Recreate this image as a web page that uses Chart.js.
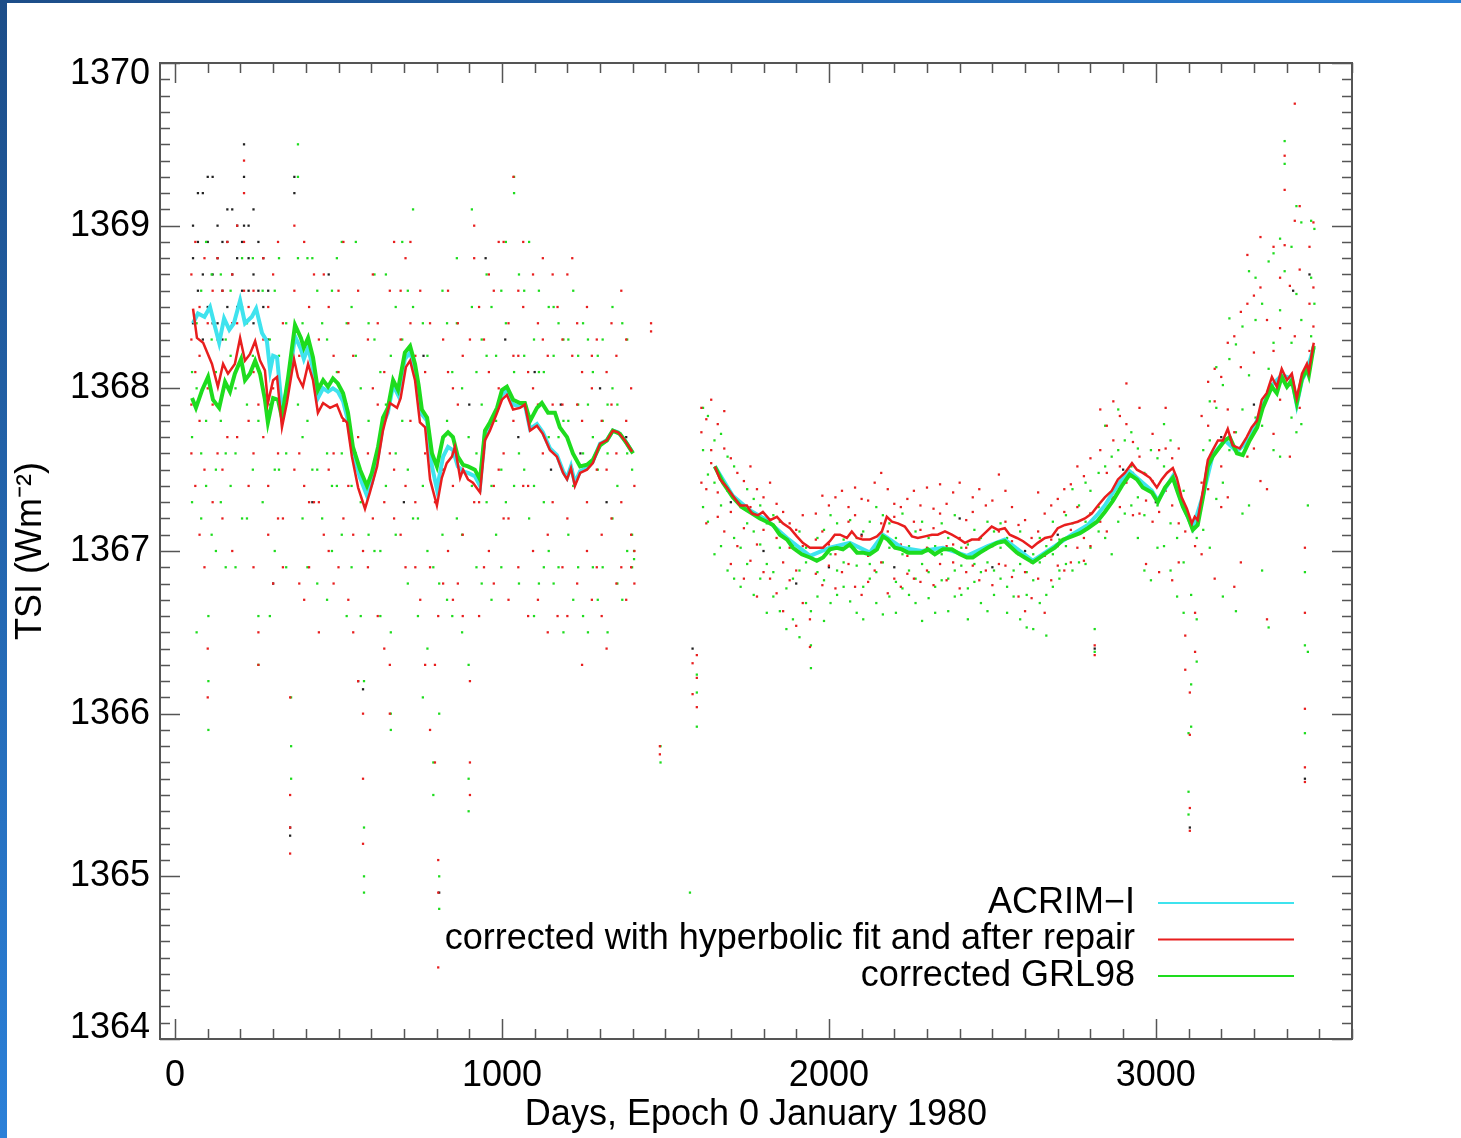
<!DOCTYPE html>
<html>
<head>
<meta charset="utf-8">
<script src="https://cdn.jsdelivr.net/npm/chart.js@4.4.1/dist/chart.umd.min.js"></script>
<style>
html,body{margin:0;padding:0;background:#fff;}
#wrap{position:relative;width:1461px;height:1138px;overflow:hidden;background:#fff;}
#topbar{position:absolute;left:0;top:0;width:1461px;height:3px;background:linear-gradient(to right,#1c4d88,#2b7ed3);}
#leftbar{position:absolute;left:0;top:0;width:7px;height:1138px;background:linear-gradient(to bottom,#1c4d88,#2b80d8);}
#tsi{position:absolute;left:0;top:0;}
</style>
</head>
<body>
<div id="wrap">
  <canvas id="tsi" width="1461" height="1138"></canvas>
  <div id="topbar"></div>
  <div id="leftbar"></div>
</div>
<script>
// axis ticks
var xTickLabels = [0, 1000, 2000, 3000];
var yTickLabels = [1364, 1365, 1366, 1367, 1368, 1369, 1370];
var legendLabels = ['ACRIM\u2212I', 'corrected with hyperbolic fit and after repair', 'corrected GRL98'];

// ACRIM-I (cyan) -- null day splits the two segments
var cyanDays = [55,70,90,107,122,135,150,166,180,199,214,235,248,266,281,291,300,312,327,346,367,385,394,407,422,437,453,468,483,498,514,529,544,566,587,602,621,636,651,667,682,703,719,734,745,755,771,786,801,820,835,850,865,881,896,917,933,948,963,985,1000,1015,1034,1055,1070,1086,1107,1125,1147,1168,1187,1199,1211,1223,1239,1260,1278,1300,1321,1339,1355,1376,1398,
  1500,
  1651,1706,1758,1810,1872,1942,2003,2064,2125,2165,2223,2284,2349,2422,2486,2538,2624,2691,2743,2792,2820,2844,2869,2896,2920,2942,2988,3006,3052,3083,3113,3144,3174,3211,3248,3287,3327,3355,3385,3416,3431,3447,3462,3483];
var cyanVals = [1368.40,1368.46,1368.44,1368.50,1368.38,1368.28,1368.43,1368.36,1368.40,1368.54,1368.40,1368.44,1368.49,1368.34,1368.29,1368.11,1368.20,1368.19,1367.87,1368.02,1368.32,1368.24,1368.18,1368.25,1368.12,1367.94,1368.00,1367.98,1368.00,1367.98,1367.92,1367.80,1367.60,1367.45,1367.34,1367.42,1367.59,1367.78,1367.85,1368.02,1367.96,1368.18,1368.22,1368.12,1367.98,1367.84,1367.80,1367.52,1367.38,1367.58,1367.64,1367.62,1367.52,1367.49,1367.48,1367.46,1367.40,1367.72,1367.77,1367.87,1367.96,1367.99,1367.90,1367.89,1367.90,1367.75,1367.78,1367.73,1367.63,1367.59,1367.49,1367.45,1367.52,1367.42,1367.49,1367.51,1367.55,1367.66,1367.68,1367.74,1367.73,1367.68,1367.61,
  null,
  1367.52,1367.34,1367.25,1367.19,1367.08,1366.97,1367.02,1367.05,1366.99,1367.10,1367.02,1367.00,1367.02,1366.97,1367.03,1367.07,1366.94,1367.03,1367.10,1367.16,1367.22,1367.28,1367.36,1367.44,1367.49,1367.45,1367.37,1367.31,1367.46,1367.28,1367.14,1367.34,1367.59,1367.68,1367.61,1367.69,1367.89,1368.02,1368.08,1368.06,1367.90,1368.05,1368.11,1368.25];

// corrected with hyperbolic fit and after repair (red)
var redDays = [55,67,86,113,131,147,162,183,199,214,229,245,260,275,284,300,312,327,342,364,376,391,407,422,437,453,474,495,511,526,541,560,581,596,618,636,657,679,690,706,719,734,749,765,780,801,816,831,847,856,872,881,896,911,933,948,963,985,1000,1015,1034,1055,1070,1086,1107,1125,1147,1168,1187,1199,1211,1223,1239,1260,1278,1300,1321,1339,1355,1376,1398,
  1500,
  1651,1667,1688,1706,1728,1749,1765,1783,1798,1820,1841,1859,1881,1902,1920,1942,1963,1982,2003,2018,2034,2055,2070,2086,2104,2125,2147,2162,2177,2193,2211,2232,2254,2272,2294,2315,2333,2355,2376,2394,2416,2437,2456,2477,2498,2517,2538,2553,2575,2594,2621,2639,2661,2682,2700,2722,2743,2761,2783,2804,2823,2844,2865,2884,2905,2927,2942,2960,2982,3003,3018,3034,3052,3064,3079,3095,3110,3119,3128,3144,3159,3174,3190,3205,3220,3235,3257,3278,3293,3309,3324,3339,3355,3370,3385,3401,3416,3431,3447,3462,3468,3483];
var redVals = [1368.49,1368.31,1368.28,1368.15,1368.01,1368.15,1368.09,1368.15,1368.31,1368.17,1368.21,1368.29,1368.17,1368.11,1367.91,1368.05,1368.07,1367.76,1367.91,1368.18,1368.07,1368.01,1368.15,1368.05,1367.85,1367.91,1367.88,1367.90,1367.82,1367.79,1367.58,1367.39,1367.26,1367.36,1367.52,1367.74,1367.91,1367.88,1367.94,1368.13,1368.17,1368.05,1367.79,1367.76,1367.44,1367.28,1367.45,1367.54,1367.58,1367.64,1367.45,1367.50,1367.44,1367.42,1367.36,1367.68,1367.74,1367.85,1367.93,1367.96,1367.87,1367.88,1367.90,1367.74,1367.77,1367.72,1367.62,1367.58,1367.48,1367.44,1367.51,1367.40,1367.48,1367.50,1367.54,1367.66,1367.68,1367.74,1367.73,1367.68,1367.61,
  null,
  1367.52,1367.44,1367.39,1367.34,1367.28,1367.28,1367.23,1367.22,1367.24,1367.19,1367.21,1367.17,1367.14,1367.09,1367.05,1367.02,1367.02,1367.02,1367.06,1367.10,1367.10,1367.08,1367.12,1367.08,1367.07,1367.07,1367.09,1367.12,1367.21,1367.18,1367.17,1367.15,1367.09,1367.08,1367.09,1367.10,1367.10,1367.12,1367.10,1367.08,1367.05,1367.07,1367.07,1367.11,1367.15,1367.13,1367.14,1367.10,1367.08,1367.06,1367.02,1367.05,1367.08,1367.09,1367.14,1367.16,1367.17,1367.18,1367.20,1367.23,1367.28,1367.33,1367.37,1367.44,1367.48,1367.54,1367.50,1367.48,1367.45,1367.39,1367.44,1367.48,1367.51,1367.45,1367.33,1367.26,1367.17,1367.21,1367.19,1367.37,1367.56,1367.62,1367.68,1367.68,1367.75,1367.65,1367.63,1367.70,1367.76,1367.80,1367.93,1367.97,1368.07,1368.01,1368.12,1368.05,1368.09,1367.94,1368.09,1368.15,1368.10,1368.28];

// corrected GRL98 (green)
var greenDays = [52,64,83,101,116,135,153,168,183,202,214,229,245,260,275,284,300,315,327,346,367,385,394,407,422,437,453,468,483,498,514,529,544,566,587,602,621,636,651,667,682,703,719,734,745,755,771,786,801,820,835,850,865,881,896,917,933,948,963,985,1000,1015,1034,1055,1070,1086,1107,1122,1141,1162,1177,1199,1217,1239,1260,1278,1300,1321,1339,1361,1382,1401,
  1500,
  1651,1676,1706,1734,1758,1789,1810,1829,1850,1872,1890,1917,1942,1963,1982,2003,2024,2043,2064,2086,2104,2125,2147,2165,2180,2202,2223,2242,2263,2284,2303,2324,2349,2376,2401,2422,2440,2462,2486,2514,2538,2548,2575,2599,2624,2645,2667,2691,2716,2743,2768,2792,2820,2844,2869,2896,2920,2942,2960,2988,3006,3028,3052,3067,3083,3098,3113,3128,3144,3159,3174,3196,3211,3226,3248,3266,3287,3310,3327,3355,3370,3385,3401,3416,3431,3447,3462,3468,3483];
var greenVals = [1367.94,1367.88,1367.99,1368.07,1367.93,1367.88,1368.04,1367.98,1368.09,1368.18,1368.05,1368.09,1368.17,1368.09,1367.93,1367.79,1367.94,1367.93,1367.82,1368.07,1368.39,1368.31,1368.25,1368.31,1368.19,1367.99,1368.05,1368.01,1368.06,1368.03,1367.97,1367.85,1367.64,1367.50,1367.40,1367.48,1367.64,1367.82,1367.88,1368.05,1367.99,1368.22,1368.26,1368.15,1368.02,1367.87,1367.82,1367.60,1367.52,1367.70,1367.73,1367.70,1367.58,1367.53,1367.52,1367.50,1367.44,1367.74,1367.79,1367.88,1367.99,1368.01,1367.93,1367.91,1367.91,1367.80,1367.88,1367.91,1367.85,1367.85,1367.76,1367.70,1367.60,1367.52,1367.53,1367.56,1367.65,1367.68,1367.74,1367.72,1367.66,1367.60,
  null,
  1367.52,1367.42,1367.33,1367.27,1367.24,1367.20,1367.18,1367.16,1367.10,1367.07,1367.02,1366.98,1366.96,1366.94,1366.96,1367.01,1367.02,1367.01,1367.04,1366.99,1366.99,1366.98,1367.01,1367.09,1367.07,1367.02,1367.01,1366.99,1366.99,1366.99,1367.01,1366.98,1367.01,1367.01,1366.98,1366.96,1366.96,1366.99,1367.02,1367.05,1367.06,1367.04,1366.99,1366.96,1366.93,1366.96,1366.99,1367.02,1367.07,1367.09,1367.11,1367.14,1367.18,1367.24,1367.31,1367.40,1367.47,1367.44,1367.39,1367.36,1367.30,1367.39,1367.45,1367.36,1367.27,1367.21,1367.13,1367.16,1367.33,1367.52,1367.58,1367.64,1367.68,1367.70,1367.60,1367.59,1367.68,1367.76,1367.88,1368.01,1367.97,1368.07,1368.01,1368.05,1367.91,1368.06,1368.12,1368.08,1368.26];

// daily values: each column is [day, TSI, TSI, ...]
var redCols = [[50,1368.7,1367.6,1368.3,1367.9],[62,1368.9,1368.1,1367.4],[75,1368.5,1368.2,1367.8,1367.1],[90,1368.8,1367.5,1366.9],[100,1366.4,1366.1,1368.4,1368.0],[115,1368.6,1367.3,1367.9],[130,1368.8,1368.3,1367.6],[145,1367.5,1368.6,1367.2],[160,1368.1,1368.9,1367.7],[175,1367.0,1368.4,1368.7],[190,1368.4,1367.7,1369.0],[211,1369.4,1369.2,1368.9,1368.6],[225,1367.8,1368.5,1367.4],[240,1368.6,1368.1,1367.6,1366.9],[255,1366.5,1366.3,1367.9],[270,1368.3,1367.7,1368.8],[285,1367.4,1367.1,1368.5],[300,1366.8,1368.0,1368.7],[315,1368.9,1367.6,1367.2],[330,1367.2,1368.4,1366.9],[352,1365.14,1365.5,1365.3,1366.1],[365,1369.0,1368.6,1367.5],[380,1367.6,1368.2,1366.8],[395,1366.7,1368.9,1367.4],[410,1368.5,1367.3,1366.9],[425,1367.3,1368.7,1368.1],[440,1367.3,1366.5,1368.3],[455,1368.7,1367.1,1368.0],[470,1367.0,1368.5,1367.5],[485,1368.2,1366.8,1367.6],[500,1366.9,1368.6,1368.1],[515,1367.8,1367.2,1368.9],[530,1368.4,1366.7,1367.4],[545,1367.1,1368.2,1366.5],[560,1366.2,1368.6,1367.7],[575,1365.2,1365.6,1366.0,1367.0],[590,1367.6,1368.3,1366.9],[605,1368.0,1367.2,1368.7],[620,1366.6,1367.9,1368.4],[640,1366.4,1367.3,1368.1],[657,1366.0,1366.3,1368.6,1367.6],[670,1367.2,1368.9,1367.5],[690,1368.6,1367.1,1368.3],[705,1367.4,1368.8,1366.9],[720,1368.9,1367.8,1368.4],[735,1366.9,1368.2,1367.3],[750,1367.9,1368.6,1366.7],[765,1366.3,1367.6,1368.1],[780,1366.9,1365.9,1368.4],[795,1365.7,1367.3,1366.3],[805,1364.44,1364.9,1365.1,1366.6],[820,1368.3,1367.5,1366.8],[835,1367.0,1368.6,1368.1],[850,1368.0,1366.7,1367.4],[865,1366.8,1368.4,1367.9],[880,1368.2,1367.1,1366.6],[902,1365.5,1365.7,1366.2,1368.3],[915,1368.8,1367.3,1369.0],[930,1367.3,1366.6,1368.5],[945,1368.3,1367.6,1366.9],[960,1367.0,1368.7,1368.1],[975,1368.6,1367.4,1366.8],[990,1367.5,1368.9,1368.0],[1005,1368.9,1367.2,1367.6],[1020,1367.2,1368.4,1366.7],[1035,1368.2,1369.3,1367.8],[1050,1366.9,1368.6,1368.2],[1065,1368.5,1367.4,1368.9],[1080,1367.4,1368.1,1366.6],[1095,1368.0,1367.0,1368.7],[1110,1366.7,1368.4,1367.9],[1125,1368.3,1367.6,1368.8],[1140,1367.1,1366.5,1368.2],[1155,1368.7,1367.9,1367.3],[1170,1366.6,1368.5,1367.8],[1185,1367.9,1366.9,1368.3],[1200,1367.2,1368.7,1366.6],[1215,1368.2,1367.5,1368.8],[1230,1366.8,1367.9,1368.4],[1245,1367.8,1366.3,1368.1],[1260,1367.3,1368.5,1367.0],[1275,1368.0,1366.7,1368.2],[1290,1366.9,1368.3,1367.5],[1305,1367.8,1367.1,1366.6],[1320,1366.4,1368.1,1367.5],[1335,1367.9,1367.2,1368.4],[1350,1368.2,1366.8,1367.6],[1365,1367.3,1368.6,1366.9],[1380,1366.7,1367.8,1368.3],[1395,1367.1,1368.0,1366.9],[1405,1367.0,1367.4,1366.8],[1456,1368.4,1368.35],[1483,1365.8,1365.75],
  [1583,1366.31,1366.12],[1596,1366.22,1366.04,1366.36],[1610,1367.73,1367.42,1367.88],[1625,1367.38,1367.81,1367.17],[1640,1367.93,1367.54,1367.62],[1660,1367.78,1367.36,1367.21],[1680,1367.63,1367.12,1367.86],[1700,1367.24,1367.57,1366.92],[1720,1367.48,1367.03,1367.31],[1740,1367.14,1367.43,1366.83],[1760,1367.27,1366.94,1367.52],[1780,1367.04,1367.38,1366.72],[1800,1367.33,1366.87,1367.13],[1820,1366.83,1367.19,1367.42],[1840,1367.08,1366.74,1367.29],[1860,1366.93,1367.24,1366.63],[1880,1367.17,1366.82,1367.02],[1900,1366.88,1367.13,1366.54],[1920,1367.03,1366.68,1367.22],[1942,1366.41,1366.58,1366.97],[1960,1367.23,1366.86,1367.07],[1980,1366.79,1367.12,1367.34],[2000,1367.28,1366.91,1367.04],[2020,1366.98,1367.33,1366.77],[2040,1367.37,1367.02,1366.87],[2060,1366.92,1367.18,1367.27],[2080,1367.22,1366.78,1367.39],[2100,1366.73,1367.09,1367.32],[2120,1367.31,1366.97,1366.81],[2140,1367.03,1367.42,1366.88],[2160,1367.48,1367.17,1366.93],[2180,1367.12,1367.38,1366.74],[2200,1366.83,1367.21,1367.29],[2220,1367.27,1367.04,1366.78],[2240,1366.97,1367.32,1366.86],[2260,1367.18,1366.83,1367.37],[2280,1366.81,1367.13,1367.28],[2300,1367.39,1367.02,1366.88],[2320,1367.14,1366.79,1367.26],[2340,1366.92,1367.23,1367.41],[2360,1367.29,1367.03,1366.82],[2380,1367.04,1367.36,1366.93],[2400,1367.42,1367.08,1366.77],[2420,1366.87,1367.19,1367.02],[2440,1367.24,1366.91,1367.33],[2460,1366.82,1367.07,1367.38],[2480,1367.28,1367.01,1366.88],[2500,1367.03,1367.31,1366.79],[2520,1367.47,1367.12,1366.92],[2540,1366.91,1367.18,1367.37],[2560,1367.27,1366.84,1367.06],[2580,1366.72,1367.16,1366.98],[2600,1367.19,1366.87,1366.63],[2620,1366.93,1367.08,1366.71],[2640,1367.36,1366.83,1367.12],[2660,1366.62,1366.97,1367.23],[2680,1367.07,1366.82,1367.28],[2700,1367.32,1367.03,1366.91],[2720,1366.88,1367.24,1367.38],[2740,1367.41,1367.13,1366.93],[2760,1367.02,1367.27,1367.52],[2780,1367.46,1367.08,1366.94],[2800,1367.23,1367.57,1367.03],[2813,1366.42,1366.36],[2830,1367.62,1367.18,1367.87],[2850,1367.12,1367.48,1367.77],[2870,1367.68,1367.33,1367.92],[2890,1367.27,1367.83,1367.52],[2910,1367.78,1367.42,1368.03],[2930,1367.22,1367.67,1367.48],[2950,1367.58,1367.23,1367.88],[2970,1366.92,1367.47,1367.31],[2990,1367.72,1367.18,1367.43],[3010,1367.24,1367.62,1366.87],[3030,1367.88,1367.37,1367.63],[3050,1366.82,1367.57,1367.28],[3070,1367.63,1367.17,1366.93],[3090,1366.48,1367.12,1366.27],[3104,1365.28,1365.42,1365.87,1366.13],[3120,1366.62,1367.03,1366.38],[3140,1367.42,1366.98,1367.83],[3160,1367.77,1367.38,1368.04],[3180,1366.83,1367.92,1368.12],[3200,1368.07,1367.52,1367.27],[3220,1367.33,1368.28,1367.87],[3240,1368.32,1366.78,1367.73],[3260,1366.93,1368.47,1368.13],[3280,1368.52,1367.58,1368.82],[3300,1367.63,1368.57,1368.22],[3320,1368.62,1367.43,1368.93],[3340,1367.38,1368.42,1366.58],[3360,1368.87,1368.23,1367.72],[3380,1367.93,1368.68,1368.37],[3394,1369.22,1368.88,1369.43],[3410,1368.02,1368.63,1367.58],[3425,1369.75,1368.32,1369.03],[3440,1368.73,1367.88,1369.12],[3456,1365.58,1365.67,1366.03,1366.62,1367.02],[3470,1368.52,1368.87,1368.23],[3482,1369.02,1368.62,1368.38]];
var greenCols = [[52,1367.3,1368.1,1367.7],[66,1366.5,1368.4,1368.0],[80,1368.6,1367.6,1367.2],[95,1367.8,1368.9,1367.4],[102,1365.9,1366.2,1366.6],[112,1368.3,1367.1,1368.7],[125,1367.0,1368.1,1367.5],[140,1368.7,1367.8,1367.3],[155,1367.6,1368.3,1366.9],[170,1368.2,1367.4,1368.6],[185,1366.9,1368.0,1367.6],[205,1368.5,1367.2,1368.8],[220,1367.2,1368.4,1367.9],[238,1368.8,1367.5,1368.2],[255,1366.3,1366.6,1367.8],[268,1368.0,1368.6,1367.3],[290,1366.6,1367.9,1368.3],[305,1368.6,1367.5,1367.0],[318,1367.5,1368.2,1368.8],[340,1366.9,1367.6,1368.4],[355,1365.6,1365.8,1366.1],[376,1369.5,1369.3,1368.8,1367.9],[390,1367.7,1368.4,1367.2],[405,1366.9,1368.8,1367.8],[420,1368.8,1367.5,1368.2],[435,1367.5,1366.8,1368.6],[450,1368.4,1367.2,1367.9],[465,1366.7,1368.3,1367.6],[480,1368.6,1367.4,1367.0],[495,1367.4,1368.8,1368.1],[510,1368.9,1367.1,1367.6],[525,1366.6,1367.9,1368.4],[540,1367.4,1368.5,1366.9],[553,1368.9,1367.6,1368.2],[568,1366.6,1367.3,1368.0],[578,1364.9,1365.0,1365.3,1366.2],[592,1367.1,1368.4,1367.8],[610,1368.3,1367.0,1368.7],[628,1367.0,1366.6,1368.1],[645,1368.7,1367.4,1367.9],[660,1365.9,1366.0,1366.5,1368.2],[675,1367.6,1368.5,1367.1],[695,1368.9,1367.8,1368.3],[712,1366.8,1368.6,1367.5],[728,1368.5,1367.2,1369.1],[743,1367.2,1368.0,1366.6],[758,1366.1,1367.4,1368.4],[772,1367.0,1368.2,1366.4],[790,1365.7,1365.5,1366.9],[808,1364.8,1365.0,1366.0,1366.8],[818,1368.6,1367.5,1367.1],[832,1367.8,1368.4,1366.7],[848,1366.6,1367.7,1368.1],[862,1368.4,1367.2,1368.8],[878,1367.1,1368.0,1366.5],[898,1365.4,1365.6,1366.3,1367.7],[908,1369.1,1368.5,1367.4],[922,1368.1,1366.9,1367.6],[938,1366.8,1368.3,1367.9],[953,1368.7,1367.3,1368.2],[968,1367.4,1366.7,1368.5],[982,1368.2,1367.8,1367.1],[998,1366.9,1368.6,1367.5],[1012,1368.4,1367.3,1368.9],[1037,1369.3,1369.2,1368.1,1367.4],[1052,1367.6,1368.7,1366.8],[1068,1368.6,1367.5,1368.2],[1083,1367.2,1368.9,1367.8],[1098,1368.3,1366.6,1367.4],[1113,1366.8,1368.1,1368.6],[1128,1368.1,1367.3,1366.9],[1143,1367.0,1368.5,1367.7],[1158,1368.5,1366.8,1368.2],[1173,1366.9,1367.7,1368.4],[1188,1367.8,1368.3,1366.5],[1203,1368.3,1367.1,1367.8],[1218,1366.7,1368.6,1367.4],[1233,1367.9,1366.9,1368.2],[1248,1368.4,1367.6,1366.6],[1263,1366.5,1367.9,1368.3],[1278,1367.7,1368.1,1366.9],[1293,1368.2,1366.7,1367.5],[1308,1366.9,1367.8,1368.3],[1323,1367.6,1366.5,1367.9],[1338,1368.0,1367.2,1368.5],[1353,1366.8,1367.9,1367.4],[1368,1367.7,1368.4,1366.7],[1383,1368.3,1367.0,1367.6],[1398,1367.1,1367.5,1366.9],[1404,1367.0,1366.95],[1485,1365.8,1365.7],
  [1575,1364.9],[1596,1366.13,1366.24,1365.92],[1615,1367.62,1367.88,1367.27],[1630,1367.83,1367.18,1367.47],[1650,1366.98,1367.42,1367.68],[1670,1367.72,1367.28,1367.03],[1690,1366.88,1367.37,1367.58],[1710,1367.52,1367.08,1366.83],[1730,1366.78,1367.27,1367.02],[1750,1367.38,1366.92,1367.17],[1770,1366.73,1367.12,1367.32],[1790,1367.28,1366.83,1367.04],[1810,1366.92,1367.17,1366.62],[1830,1367.22,1366.72,1366.87],[1850,1366.63,1367.02,1367.18],[1870,1367.08,1366.77,1366.52],[1890,1366.83,1367.03,1366.58],[1910,1366.47,1366.88,1367.12],[1930,1367.02,1366.68,1366.93],[1945,1366.28,1366.42,1366.63],[1965,1366.87,1367.08,1366.72],[1985,1367.13,1366.82,1366.57],[2005,1366.68,1366.98,1367.22],[2025,1367.17,1366.88,1366.73],[2045,1366.78,1367.07,1366.93],[2065,1367.03,1366.69,1367.19],[2085,1366.62,1366.91,1367.08],[2105,1367.12,1366.78,1366.58],[2125,1366.83,1367.18,1366.92],[2145,1367.27,1366.87,1366.68],[2165,1366.93,1367.22,1366.61],[2185,1366.72,1367.02,1367.17],[2205,1367.08,1366.81,1366.62],[2225,1366.77,1366.98,1367.23],[2245,1367.03,1366.73,1366.88],[2265,1366.68,1367.12,1366.83],[2285,1367.18,1366.92,1366.57],[2305,1366.87,1366.71,1367.08],[2325,1366.62,1367.03,1366.78],[2345,1366.98,1366.82,1367.17],[2365,1366.83,1367.08,1366.63],[2385,1367.22,1366.88,1366.72],[2405,1366.73,1367.02,1366.91],[2425,1367.04,1366.77,1366.58],[2445,1366.81,1367.13,1366.92],[2465,1367.08,1366.68,1366.87],[2485,1366.63,1366.93,1367.18],[2505,1366.88,1367.12,1366.73],[2525,1367.17,1366.83,1367.02],[2545,1366.78,1367.08,1366.62],[2565,1367.02,1366.72,1366.88],[2585,1366.58,1366.92,1367.12],[2605,1366.87,1366.53,1366.73],[2625,1366.52,1366.82,1366.98],[2645,1367.08,1366.68,1366.93],[2665,1366.73,1367.03,1366.48],[2685,1366.98,1366.78,1367.18],[2705,1366.83,1367.07,1366.88],[2725,1367.22,1366.92,1367.03],[2745,1366.88,1367.17,1367.38],[2765,1367.28,1366.93,1367.12],[2785,1366.92,1367.42,1367.18],[2800,1367.37,1367.02,1367.23],[2813,1366.38,1366.52],[2825,1367.12,1367.48,1367.27],[2845,1367.52,1367.08,1367.77],[2865,1366.98,1367.58,1367.32],[2885,1367.62,1367.18,1367.87],[2905,1367.23,1367.68,1367.42],[2925,1367.73,1367.28,1367.52],[2945,1367.08,1367.63,1367.33],[2965,1367.48,1366.88,1367.22],[2985,1366.82,1367.38,1367.62],[3005,1367.57,1367.02,1367.28],[3025,1367.03,1367.52,1367.78],[3045,1367.68,1367.17,1366.88],[3065,1366.72,1367.42,1367.08],[3085,1367.37,1366.62,1366.93],[3100,1365.38,1365.52,1365.88],[3108,1365.92,1366.18,1366.73],[3125,1366.58,1367.08,1366.32],[3145,1367.62,1367.13,1367.38],[3165,1367.02,1367.68,1367.92],[3185,1367.88,1367.32,1368.13],[3205,1367.42,1368.02,1366.72],[3225,1368.18,1367.62,1368.43],[3245,1366.63,1367.73,1368.27],[3265,1368.38,1367.87,1367.23],[3285,1367.28,1368.72,1368.08],[3305,1368.68,1367.82,1368.42],[3325,1367.77,1368.52,1366.88],[3345,1366.53,1368.12,1368.78],[3360,1368.83,1367.62,1368.28],[3380,1367.58,1368.48,1368.92],[3394,1369.38,1369.52,1368.72],[3415,1368.28,1367.82,1368.87],[3430,1369.12,1368.58,1367.73],[3445,1367.78,1368.42,1369.02],[3456,1365.88,1366.42,1366.87],[3465,1366.38,1367.28],[3475,1368.68,1369.03,1368.32],[3485,1368.98,1368.52]];
var blackCols = [[55,1368.8,1369.0,1368.4],[70,1368.6,1369.2,1368.9],[85,1369.2,1368.7,1368.3],[100,1368.5,1368.9,1369.3],[115,1369.3,1368.7,1368.4],[130,1368.4,1369.0,1368.8],[145,1368.6,1368.9,1368.3],[160,1368.9,1368.5,1369.1],[175,1369.1,1368.7,1368.4],[190,1368.5,1368.8,1369.0],[205,1368.9,1368.6],[211,1369.5,1369.3,1369.0],[225,1368.6,1369.0,1368.8],[240,1368.7,1368.4,1369.1],[255,1368.9,1368.6],[270,1368.5,1368.8],[285,1368.6,1368.3],[300,1366.8],[352,1365.3,1365.25],[365,1369.3,1369.2],[420,1367.3],[470,1368.7],[560,1366.2],[575,1366.15],[640,1367.8],[700,1367.3],[760,1368.2],[808,1364.9],[850,1367.6],[900,1367.9],[950,1368.8],[1010,1368.3],[1050,1367.7],[1100,1368.1],[1150,1367.5],[1180,1367.9],[1240,1367.6],[1300,1368.0],[1320,1367.3],[1380,1367.7],
  [1583,1366.4],[1700,1367.3],[1800,1367.0],[1900,1366.8],[2000,1366.9],[2100,1367.1],[2200,1366.9],[2300,1367.0],[2400,1367.2],[2500,1366.9],[2600,1367.0],[2700,1367.1],[2813,1366.4],[2900,1367.5],[3000,1367.3],[3104,1365.3],[3200,1367.7],[3300,1367.9],[3420,1368.6],[3456,1365.6],[3470,1368.7]];

var CYAN = '#3fe3ee', RED = '#e81e1e', GREEN = '#1edc1e';
var FONT = '"Liberation Sans", Arial, Helvetica, sans-serif';

function series(days, vals) {
  return days.map(function(d, i) { return {x: d, y: vals[i]}; });
}
function dots(cols) {
  var out = [];
  cols.forEach(function(c) {
    for (var i = 1; i < c.length; i++) out.push({x: c[0], y: c[i]});
  });
  return out;
}

// box, inward minor/major ticks on all four sides, legend inside bottom right
var frameBox = {
  id: 'frameBox',
  afterDatasetsDraw: function(chart) {
    var ctx = chart.ctx, a = chart.chartArea;
    var xs = chart.scales.x, ys = chart.scales.y;
    ctx.save();
    ctx.strokeStyle = '#555';
    ctx.lineWidth = 1.5;
    ctx.beginPath();
    for (var k = 0; k <= 60; k++) {
      var py = Math.round(ys.getPixelForValue(1364 + k / 10)) + 0.5;
      var len = (k % 10 === 0) ? 20 : 10;
      ctx.moveTo(a.left, py); ctx.lineTo(a.left + len, py);
      ctx.moveTo(a.right, py); ctx.lineTo(a.right - len, py);
    }
    for (var d = 0; d <= 3600; d += 100) {
      var px = Math.round(xs.getPixelForValue(d)) + 0.5;
      var l2 = (d % 1000 === 0) ? 20 : 10;
      ctx.moveTo(px, a.bottom); ctx.lineTo(px, a.bottom - l2);
      ctx.moveTo(px, a.top); ctx.lineTo(px, a.top + l2);
    }
    ctx.stroke();
    ctx.lineWidth = 2;
    ctx.strokeRect(a.left, a.top, a.right - a.left, a.bottom - a.top);

    // legend
    var colors = [CYAN, RED, GREEN];
    ctx.font = '36px ' + FONT;
    ctx.textAlign = 'right';
    ctx.textBaseline = 'middle';
    for (var i = 0; i < legendLabels.length; i++) {
      var ly = a.bottom - 136 + i * 36.5;
      ctx.fillStyle = '#000';
      ctx.fillText(legendLabels[i], a.right - 217, ly);
      ctx.strokeStyle = colors[i];
      ctx.lineWidth = 2;
      ctx.beginPath();
      ctx.moveTo(a.right - 194, ly); ctx.lineTo(a.right - 58, ly);
      ctx.stroke();
    }
    ctx.restore();
  }
};

var dotStyle = {pointStyle: 'rect', pointRadius: 1.6, pointBorderWidth: 0, order: 10};
var ctx = document.getElementById('tsi').getContext('2d');
var tsiChart = new Chart(ctx, {
  type: 'scatter',
  data: {
    datasets: [
      Object.assign({label: 'red days', data: dots(redCols), backgroundColor: RED}, dotStyle),
      Object.assign({label: 'green days', data: dots(greenCols), backgroundColor: GREEN}, dotStyle),
      Object.assign({label: 'black days', data: dots(blackCols), backgroundColor: '#222'}, dotStyle),
      {label: legendLabels[0], data: series(cyanDays, cyanVals), showLine: true, borderColor: CYAN, borderWidth: 4, pointRadius: 0, order: 3},
      {label: legendLabels[2], data: series(greenDays, greenVals), showLine: true, borderColor: GREEN, borderWidth: 4, pointRadius: 0, order: 2},
      {label: legendLabels[1], data: series(redDays, redVals), showLine: true, borderColor: RED, borderWidth: 2.5, pointRadius: 0, order: 1}
    ]
  },
  options: {
    responsive: false,
    animation: false,
    devicePixelRatio: 1,
    layout: {padding: {left: 0, top: 63, right: 109, bottom: 0}},
    plugins: {legend: {display: false}, tooltip: {enabled: false}},
    scales: {
      x: {
        type: 'linear', min: -46, max: 3600,
        afterBuildTicks: function(s) { s.ticks = xTickLabels.map(function(v) { return {value: v}; }); },
        afterFit: function(s) { s.height = 99; },
        grid: {display: false, drawTicks: false},
        border: {display: false},
        ticks: {color: '#000', font: {size: 36, family: FONT}, padding: 15, maxRotation: 0, autoSkip: false,
          callback: function(v) { return String(v); }},
        title: {display: true, text: 'Days, Epoch 0 January 1980', color: '#000', font: {size: 36, family: FONT}, padding: {top: 0, bottom: 1}}
      },
      y: {
        min: 1364, max: 1370,
        afterBuildTicks: function(s) { s.ticks = yTickLabels.map(function(v) { return {value: v}; }); },
        afterFit: function(s) { s.width = 160; },
        grid: {display: false, drawTicks: false},
        border: {display: false},
        ticks: {color: '#000', font: {size: 36, family: FONT, lineHeight: 0.6}, padding: 10, autoSkip: false,
          // end labels sit inside the box, as in the original plot
          callback: function(v) {
            if (v === 1370) return ['', String(v)];
            if (v === 1364) return [String(v), ''];
            return String(v);
          }},
        title: {display: true, text: 'TSI (Wm\u207B\u00B2)', color: '#000', font: {size: 36, family: FONT}, padding: {top: 9, bottom: 0}}
      }
    }
  },
  plugins: [frameBox]
});
</script>
</body>
</html>
